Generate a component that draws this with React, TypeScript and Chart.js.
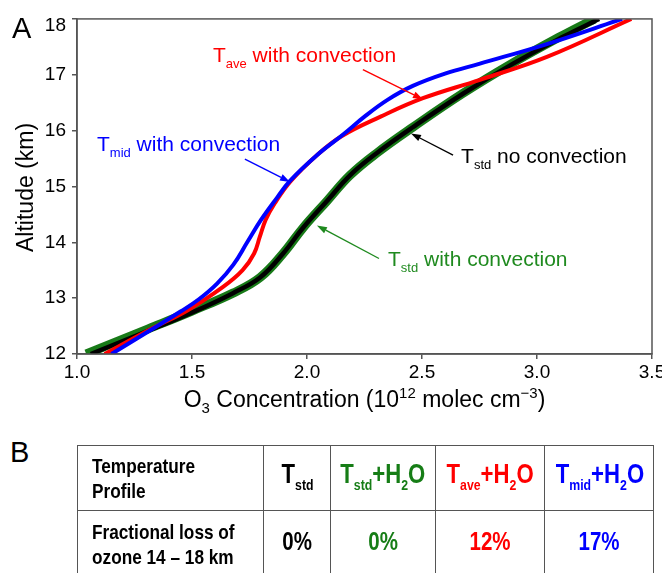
import React, { useEffect, useRef } from 'react';
import { Chart, registerables } from 'chart.js';
Chart.register(...registerables);

// ---------- data ----------
const xTickValues = [1.0, 1.5, 2.0, 2.5, 3.0, 3.5];
const yTickValues = [12, 13, 14, 15, 16, 17, 18];

const tStdNoConvOzone = [1.06, 1.317, 1.504, 1.678, 1.796, 1.896, 1.983, 2.087, 2.187, 2.304, 2.46, 2.678, 2.896, 3.113, 3.27];
const tStdNoConvAlt = [12.0, 12.43, 12.75, 13.09, 13.37, 13.8, 14.26, 14.74, 15.2, 15.6, 16.06, 16.66, 17.2, 17.68, 18.0];

const tStdConvOzone = [1.04, 1.31, 1.5, 1.678, 1.796, 1.896, 1.983, 2.087, 2.187, 2.304, 2.46, 2.675, 2.89, 3.1, 3.25];
const tStdConvAlt = [12.0, 12.45, 12.77, 13.09, 13.37, 13.8, 14.26, 14.74, 15.2, 15.6, 16.06, 16.66, 17.2, 17.68, 18.0];

const tAveConvOzone = [1.12, 1.317, 1.48, 1.635, 1.72, 1.77, 1.795, 1.82, 1.86, 1.93, 2.043, 2.15, 2.32, 2.504, 2.752, 3.043, 3.41];
const tAveConvAlt = [12.0, 12.44, 12.78, 13.2, 13.5, 13.8, 14.1, 14.4, 14.7, 15.1, 15.56, 15.9, 16.25, 16.58, 16.91, 17.32, 18.0];

const tMidConvOzone = [1.15, 1.317, 1.45, 1.53, 1.609, 1.68, 1.74, 1.8, 1.87, 1.926, 2.043, 2.157, 2.25, 2.35, 2.46, 2.6, 2.752, 3.043, 3.37];
const tMidConvAlt = [12.0, 12.42, 12.76, 12.98, 13.26, 13.6, 14.0, 14.4, 14.8, 15.1, 15.56, 15.93, 16.25, 16.55, 16.8, 17.02, 17.2, 17.55, 18.0];

// table (panel B)
const tableRowLabels = [['Temperature', 'Profile'], ['Fractional loss of', 'ozone 14 \u2013 18 km']];
const profileSubscripts = ['std', 'std', 'ave', 'mid'];
const profileHasWater = [false, true, true, true];
const fractionalLoss = ['0%', '0%', '12%', '17%'];

// ---------- styles ----------
const FONT = "'Liberation Sans', Arial, Helvetica, sans-serif";
const RED = '#ff0000';
const BLUE = '#0000ff';
const GREEN_LINE = '#187a18';
const GREEN_TEXT = '#1f8a1f';
const AXIS = '#555555';
const profileColors = ['#000000', '#167d16', '#ff0000', '#0000ff'];

type Part = [string, number, number];
const annotations: { color: string; parts: Part[]; at: [number, number]; from: [number, number]; to: [number, number] }[] = [
  { color: RED, parts: [['T', 21, 0], ['ave', 13, 6], [' with convection', 21, 0]], at: [1.591, 17.23], from: [2.243, 17.09], to: [2.504, 16.56] },
  { color: BLUE, parts: [['T', 21, 0], ['mid', 13, 6], [' with convection', 21, 0]], at: [1.087, 15.63], from: [1.73, 15.49], to: [1.926, 15.08] },
  { color: '#000000', parts: [['T', 21, 0], ['std', 13, 6], [' no convection', 21, 0]], at: [2.67, 15.42], from: [2.635, 15.56], to: [2.452, 15.95] },
  { color: GREEN_TEXT, parts: [['T', 21, 0], ['std', 13, 6], [' with convection', 21, 0]], at: [2.352, 13.58], from: [2.313, 13.71], to: [2.043, 14.3] },
];

const toPoints = (xs: number[], ys: number[]) => xs.map((x, i) => ({ x, y: ys[i] }));

const drawParts = (ctx: CanvasRenderingContext2D, x: number, y: number, parts: Part[]) => {
  let cx = x;
  for (const [t, size, dy] of parts) {
    ctx.font = `${size}px ${FONT}`;
    ctx.fillText(t, cx, y + dy);
    cx += ctx.measureText(t).width;
  }
  return cx - x;
};

const measureParts = (ctx: CanvasRenderingContext2D, parts: Part[]) => {
  let w = 0;
  for (const [t, size] of parts) {
    ctx.font = `${size}px ${FONT}`;
    w += ctx.measureText(t).width;
  }
  return w;
};

const overlayPlugin = {
  id: 'overlay',
  afterDraw(chart: any) {
    const ctx: CanvasRenderingContext2D = chart.ctx;
    const { left, right, top, bottom } = chart.chartArea;
    const xs = chart.scales.x;
    const ys = chart.scales.y;
    ctx.save();
    ctx.strokeStyle = AXIS;
    ctx.lineWidth = 1.5;
    ctx.strokeRect(left, top, right - left, bottom - top);

    ctx.textBaseline = 'alphabetic';
    ctx.textAlign = 'left';
    for (const a of annotations) {
      ctx.fillStyle = a.color;
      ctx.strokeStyle = a.color;
      drawParts(ctx, xs.getPixelForValue(a.at[0]), ys.getPixelForValue(a.at[1]), a.parts);
      const x1 = xs.getPixelForValue(a.from[0]);
      const y1 = ys.getPixelForValue(a.from[1]);
      const x2 = xs.getPixelForValue(a.to[0]);
      const y2 = ys.getPixelForValue(a.to[1]);
      const ang = Math.atan2(y2 - y1, x2 - x1);
      const hl = 10;
      const hw = 3.5;
      const bx = x2 - hl * Math.cos(ang);
      const by = y2 - hl * Math.sin(ang);
      ctx.lineWidth = 1.4;
      ctx.beginPath();
      ctx.moveTo(x1, y1);
      ctx.lineTo(bx, by);
      ctx.stroke();
      ctx.beginPath();
      ctx.moveTo(x2, y2);
      ctx.lineTo(bx + hw * Math.sin(ang), by - hw * Math.cos(ang));
      ctx.lineTo(bx - hw * Math.sin(ang), by + hw * Math.cos(ang));
      ctx.closePath();
      ctx.fill();
    }

    ctx.fillStyle = '#000';
    const xTitle: Part[] = [
      ['O', 23, 0], ['3', 15, 6], [' Concentration (10', 23, 0], ['12', 15, -9], [' molec cm', 23, 0], ['\u22123', 15, -9], [')', 23, 0],
    ];
    const w = measureParts(ctx, xTitle);
    drawParts(ctx, (left + right) / 2 - w / 2, bottom + 53, xTitle);

    ctx.save();
    ctx.translate(33, (top + bottom) / 2 + 1);
    ctx.rotate(-Math.PI / 2);
    ctx.textAlign = 'center';
    ctx.font = `23px ${FONT}`;
    ctx.fillText('Altitude (km)', 0, 0);
    ctx.restore();

    ctx.font = `29px ${FONT}`;
    ctx.textAlign = 'left';
    ctx.fillText('A', 12, 38);
    ctx.restore();
  },
};

const Sub = ({ text, size }: { text: string; size: number }) => (
  <span style={{ fontSize: size, position: 'relative', top: 7 }}>{text}</span>
);

export default function App() {
  const ref = useRef<HTMLCanvasElement>(null);
  useEffect(() => {
    const chart = new Chart(ref.current as HTMLCanvasElement, {
      type: 'line',
      data: {
        datasets: [
          { label: 'Tmid with convection', data: toPoints(tMidConvOzone, tMidConvAlt), borderColor: BLUE, borderWidth: 4 },
          { label: 'Tave with convection', data: toPoints(tAveConvOzone, tAveConvAlt), borderColor: RED, borderWidth: 4 },
          { label: 'Tstd no convection', data: toPoints(tStdNoConvOzone, tStdNoConvAlt), borderColor: '#000000', borderWidth: 4.5 },
          { label: 'Tstd with convection', data: toPoints(tStdConvOzone, tStdConvAlt), borderColor: GREEN_LINE, borderWidth: 9 },
        ].map((d) => ({ ...d, pointRadius: 0, fill: false, tension: 0.4, clip: 0, borderCapStyle: 'butt' as const })),
      },
      options: {
        responsive: false,
        animation: false,
        devicePixelRatio: 1,
        layout: { padding: { left: 0, top: 17, right: 48, bottom: 0 } },
        plugins: { legend: { display: false }, tooltip: { enabled: false } },
        scales: {
          x: {
            type: 'linear',
            position: 'bottom',
            min: 1.0,
            max: 3.5,
            afterBuildTicks: (s: any) => { s.ticks = xTickValues.map((v) => ({ value: v })); },
            ticks: {
              callback: (v: any) => Number(v).toFixed(1),
              font: { family: FONT, size: 19 },
              color: '#000',
              padding: 2,
              maxRotation: 0,
              autoSkip: false,
            },
            grid: { drawOnChartArea: false, drawTicks: true, tickLength: 5, color: AXIS, lineWidth: 1.5 },
            border: { color: AXIS, width: 1.5 },
            afterFit: (s: any) => { s.height = 71; },
          },
          y: {
            type: 'linear',
            position: 'left',
            min: 12,
            max: 18,
            afterBuildTicks: (s: any) => { s.ticks = yTickValues.map((v) => ({ value: v })); },
            ticks: {
              callback: (v: any) => (Number(v) === 18 ? ['', '18'] : String(v)),
              font: { family: FONT, size: 19, lineHeight: 0.68 },
              color: '#000',
              padding: 6,
              autoSkip: false,
            },
            grid: { drawOnChartArea: false, drawTicks: true, tickLength: 5, color: AXIS, lineWidth: 1.5 },
            border: { color: AXIS, width: 1.5 },
            afterFit: (s: any) => { s.width = 77; },
          },
        },
      },
      plugins: [overlayPlugin],
    } as any);
    return () => chart.destroy();
  }, []);

  const colEdges = [77, 264, 331, 436, 545, 654];
  const rowEdges = [445, 511, 577];
  const border = `1.6px solid ${AXIS}`;
  const squeeze = 'scaleX(0.82)';

  const cells: React.ReactNode[] = [];
  for (let r = 0; r < 2; r++) {
    for (let c = 0; c < 5; c++) {
      const left = colEdges[c];
      const top = rowEdges[r];
      const width = colEdges[c + 1] - left;
      const height = rowEdges[r + 1] - top;
      let content: React.ReactNode;
      if (c === 0) {
        content = (
          <div style={{ fontSize: 21, lineHeight: '25px', color: '#000', paddingLeft: 15, whiteSpace: 'nowrap', transform: squeeze, transformOrigin: '15px 50%' }}>
            {tableRowLabels[r][0]}<br />{tableRowLabels[r][1]}
          </div>
        );
      } else if (r === 0) {
        const i = c - 1;
        content = (
          <div style={{ width: '100%', textAlign: 'center', color: profileColors[i], fontSize: 27, lineHeight: '27px', marginTop: -4, whiteSpace: 'nowrap' }}>
            <span style={{ display: 'inline-block', transform: squeeze, transformOrigin: '50% 50%' }}>
              T<Sub text={profileSubscripts[i]} size={15} />
              {profileHasWater[i] ? (<>+H<Sub text="2" size={15} />O</>) : null}
            </span>
          </div>
        );
      } else {
        const i = c - 1;
        content = (
          <div style={{ width: '100%', textAlign: 'center', color: profileColors[i], fontSize: 25, lineHeight: '25px', marginTop: -5, whiteSpace: 'nowrap' }}>
            <span style={{ display: 'inline-block', transform: squeeze, transformOrigin: '50% 50%' }}>{fractionalLoss[i]}</span>
          </div>
        );
      }
      cells.push(
        <div
          key={`${r}-${c}`}
          style={{
            position: 'absolute', left, top, width, height, boxSizing: 'border-box',
            borderRight: c < 4 ? border : 'none', borderBottom: r === 0 ? border : 'none',
            display: 'flex', alignItems: 'center',
          }}
        >
          {content}
        </div>
      );
    }
  }

  return (
    <div style={{ position: 'fixed', left: 0, top: 0, width: 662, height: 573, overflow: 'hidden', background: '#fff' }}>
      <canvas ref={ref} width={700} height={425} style={{ position: 'absolute', left: 0, top: 0, width: 700, height: 425 }} />
      <div style={{ position: 'absolute', left: 10, top: 438, fontFamily: FONT, fontSize: 29, lineHeight: '29px' }}>B</div>
      <div style={{ position: 'absolute', left: 0, top: 0, width: 662, height: 573, fontFamily: FONT, fontWeight: 'bold' }}>
        <div style={{ position: 'absolute', left: colEdges[0], top: rowEdges[0], width: colEdges[5] - colEdges[0], height: 200, border, boxSizing: 'border-box' }} />
        {cells}
      </div>
    </div>
  );
}
